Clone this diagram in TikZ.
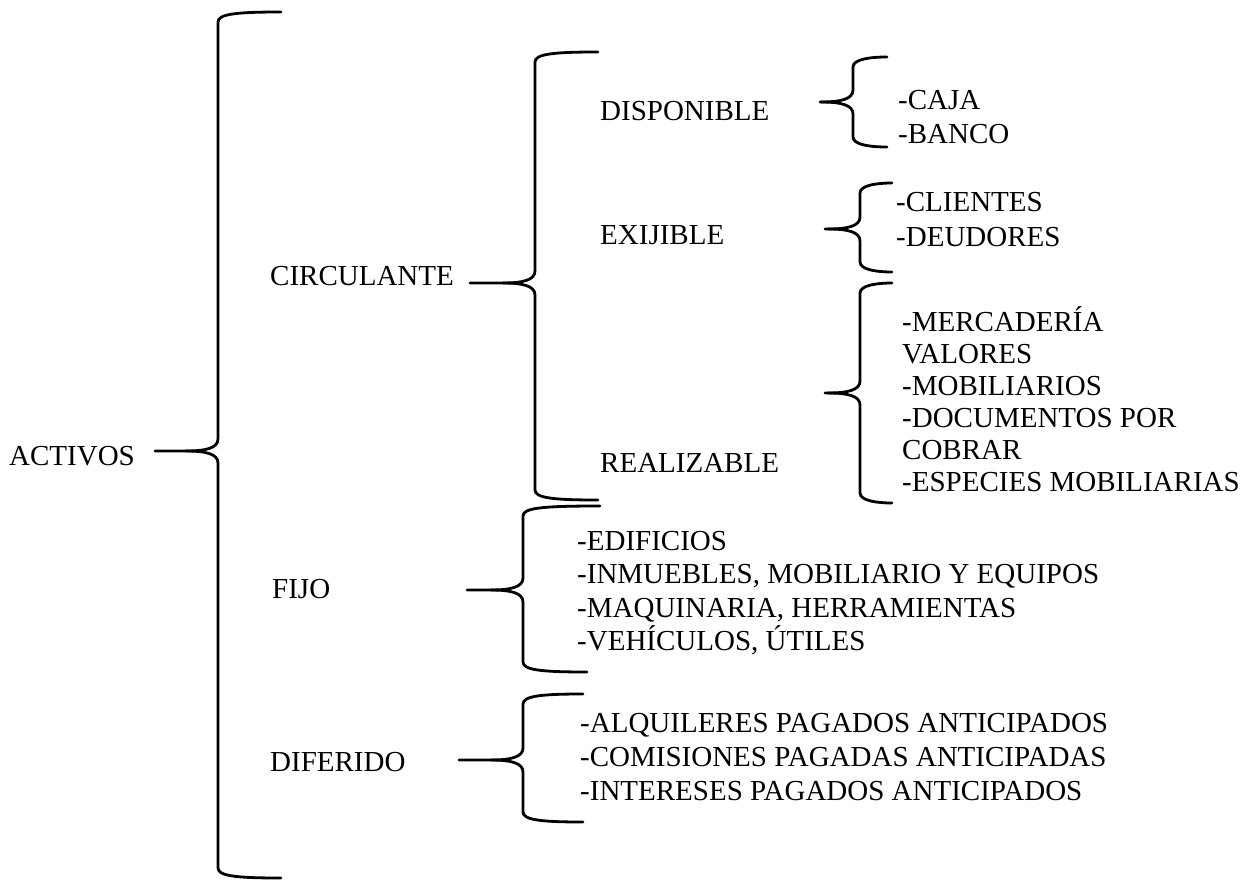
\documentclass[tikz,border=0pt]{standalone}
\usepackage{fontspec}
\setmainfont{Liberation Serif}
\begin{document}
\begin{tikzpicture}[x=1pt,y=-1pt,line join=round,line cap=round,
  lbl/.style={anchor=base west,inner sep=0pt,font=\fontsize{29}{33}\selectfont},
  llave/.style={line width=2.8pt}]
\useasboundingbox (0,0) rectangle (1253,880);
% #1 x of the bar, #2 top, #3 bottom, #4 tip, #5 top end, #6 bottom end, #7 tick end
\def\llave#1#2#3#4#5#6#7{%
  \draw[llave] (#5,#2) .. controls (#1+18,#2) and (#1,#2+2) .. (#1,#2+10) -- (#1,#4-12) .. controls (#1,#4-3) and (#1-12,#4) .. (#1-32,#4) -- (#7,#4);
  \draw[llave] (#1-32,#4) .. controls (#1-12,#4) and (#1,#4+3) .. (#1,#4+12) -- (#1,#3-10) .. controls (#1,#3-2) and (#1+18,#3) .. (#6,#3);}
\node[lbl] (activos) at (9,465) {ACTIVOS};
\node[lbl] (circ) at (270,285) {CIRCULANTE};
\node[lbl] (disp) at (600,121) {DISPONIBLE};
\node[lbl] (exij) at (600,244) {EXIJIBLE};
\node[lbl] (real) at (600,472) {REALIZABLE};
\node[lbl] (fijo) at (272,598) {FIJO};
\node[lbl] (dif) at (270,771) {DIFERIDO};
\foreach \t [count=\i] in {-CAJA,-BANCO}
  \node[lbl] (disp\i) at (898,{110+34*(\i-1)}) {\t};
\foreach \t [count=\i] in {-CLIENTES,-DEUDORES}
  \node[lbl] (exij\i) at (896,{211+35*(\i-1)}) {\t};
\foreach \t [count=\i] in {-MERCADERÍA,VALORES,-MOBILIARIOS,-DOCUMENTOS POR,COBRAR,-ESPECIES MOBILIARIAS}
  \node[lbl] (real\i) at (902,{331+32*(\i-1)}) {\t};
\foreach \t [count=\i] in {-EDIFICIOS,{-INMUEBLES, MOBILIARIO Y EQUIPOS},{-MAQUINARIA, HERRAMIENTAS},{-VEHÍCULOS, ÚTILES}}
  \node[lbl] (fijo\i) at (577,{550+33.5*(\i-1)}) {\t};
\foreach \t [count=\i] in {-ALQUILERES PAGADOS ANTICIPADOS,-COMISIONES PAGADAS ANTICIPADAS,-INTERESES PAGADOS ANTICIPADOS}
  \node[lbl] (dif\i) at (580,{732+34*(\i-1)}) {\t};
\llave{218}{12}{878}{451}{281}{281}{155}
\llave{535}{52}{500}{283}{598}{598}{470}
\llave{853}{57}{147}{102}{887}{887}{820}
\llave{860}{183}{272}{229}{892}{892}{825}
\llave{860}{283}{503}{393}{892}{892}{825}
\llave{523}{506}{672}{590}{600}{587}{467}
\llave{523}{694}{822}{760}{583}{583}{459}
\end{tikzpicture}
\end{document}
